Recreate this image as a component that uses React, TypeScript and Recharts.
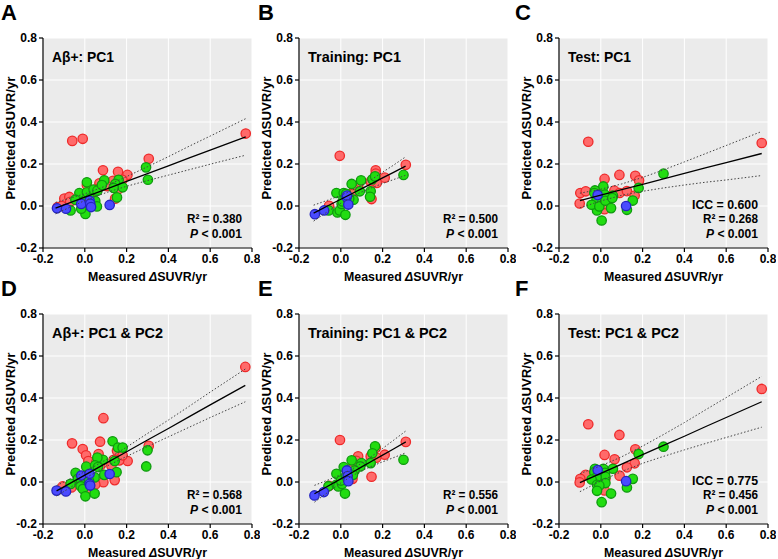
import React from "react";
import { ScatterChart, Scatter, XAxis, YAxis, CartesianGrid } from "recharts";

// ---- data: [measured, predicted] ----
type P = [number, number];

const aRed: P[] = [[-0.06, 0.31], [-0.01, 0.32], [0.77, 0.345], [0.306, 0.225], [0.087, 0.17], [0.159, 0.163], [0.204, 0.148], [-0.098, 0.035], [-0.074, 0.043], [0.01, 0.1], [0.07, 0.108], [0.135, 0.12], [0.18, 0.125], [0.16, 0.08], [0.145, 0.035], [-0.13, -0.005], [-0.11, 0.0], [-0.02, 0.045], [0.035, 0.06], [0.06, 0.08], [0.105, 0.095], [-0.07, 0.02]];
const aGreen: P[] = [[0.293, 0.184], [0.302, 0.125], [0.01, 0.113], [0.093, 0.122], [0.162, 0.125], [0.146, 0.105], [0.181, 0.089], [0.154, 0.041], [-0.026, 0.062], [0.01, 0.065], [0.042, 0.078], [0.06, 0.073], [0.082, 0.1], [0.138, 0.086], [-0.068, -0.021], [0.003, -0.038], [-0.017, -0.013], [0.026, 0.036], [0.05, 0.024], [0.058, -0.002], [-0.045, 0.03], [-0.009, 0.019]];
const aBlue: P[] = [[-0.133, -0.011], [-0.09, -0.013], [-0.017, 0.01], [0.023, 0.025], [0.026, 0.011], [0.03, -0.005], [0.119, 0.005]];

const bRed: P[] = [[-0.005, 0.239], [0.311, 0.196], [0.21, 0.135], [0.167, 0.17], [0.167, 0.154], [0.172, 0.11], [0.143, 0.117], [0.083, 0.098], [0.064, 0.078], [0.147, 0.033], [-0.056, 0.001], [0.058, 0.058]];
const bGreen: P[] = [[0.3, 0.148], [-0.021, 0.062], [0.014, 0.062], [0.052, 0.105], [0.097, 0.122], [0.151, 0.127], [0.164, 0.141], [0.091, 0.07], [0.143, 0.07], [0.14, 0.044], [-0.058, -0.021], [-0.016, -0.031], [-0.005, -0.021], [0.022, -0.042], [0.004, 0.01], [0.009, 0.022], [0.061, 0.03], [0.04, 0.035], [0.026, 0.058]];
const bBlue: P[] = [[-0.124, -0.039], [-0.08, -0.021], [0.028, 0.042], [0.03, 0.05], [0.036, 0.007]];

const cRed: P[] = [[-0.06, 0.306], [0.77, 0.3], [0.089, 0.148], [0.165, 0.144], [0.183, 0.122], [0.018, 0.129], [-0.098, 0.062], [-0.072, 0.07], [-0.101, 0.012], [0.065, 0.073], [0.09, 0.062], [0.125, 0.071], [0.162, 0.05], [0.018, -0.015], [0.022, 0.009]];
const cGreen: P[] = [[0.3, 0.154], [0.012, 0.093], [-0.028, 0.074], [-0.031, 0.062], [-0.02, 0.031], [-0.018, -0.021], [-0.044, 0.006], [-0.007, -0.002], [0.004, -0.069], [0.02, 0.054], [0.022, 0.025], [0.058, 0.049], [0.055, 0.038], [0.049, -0.01], [0.125, -0.018], [0.153, 0.026], [0.181, 0.086]];
const cBlue: P[] = [[-0.015, 0.052], [0.121, 0.0]];

const dRed: P[] = [[0.768, 0.548], [0.089, 0.304], [-0.061, 0.184], [0.073, 0.192], [-0.01, 0.157], [0.006, 0.127], [0.017, 0.1], [0.066, 0.133], [0.306, 0.172], [0.205, 0.1], [0.154, 0.149], [0.165, 0.103], [0.127, 0.079], [0.055, 0.095], [0.074, 0.079], [0.181, 0.127], [0.138, 0.106], [0.089, -0.001], [0.143, 0.009], [-0.106, -0.021], [-0.064, -0.026], [0.05, -0.012], [0.014, -0.033]];
const dGreen: P[] = [[0.133, 0.194], [0.159, 0.164], [0.181, 0.164], [0.3, 0.151], [0.294, 0.074], [0.087, 0.106], [0.06, 0.116], [0.007, 0.073], [0.049, 0.079], [0.063, 0.071], [0.093, 0.034], [0.152, 0.047], [0.143, 0.1], [-0.044, 0.044], [-0.033, 0.015], [0.003, 0.012], [-0.017, 0.003], [0.007, 0.031], [0.047, 0.022], [-0.02, -0.02], [-0.009, -0.033], [0.003, -0.068], [0.047, -0.055], [-0.068, -0.009], [0.02, 0.006]];
const dBlue: P[] = [[-0.135, -0.041], [-0.09, -0.045], [-0.017, 0.031], [0.023, 0.039], [0.023, -0.009], [0.026, -0.017], [0.119, 0.038]];

const eRed: P[] = [[-0.004, 0.2], [0.311, 0.191], [0.21, 0.13], [0.167, 0.162], [0.17, 0.116], [0.143, 0.122], [0.083, 0.122], [0.074, 0.101], [0.061, 0.087], [0.147, 0.025], [0.056, 0.015], [-0.056, -0.018]];
const eGreen: P[] = [[0.3, 0.106], [0.164, 0.17], [0.151, 0.137], [0.143, 0.09], [0.099, 0.09], [0.093, 0.074], [0.052, 0.103], [0.014, 0.071], [-0.021, 0.039], [0.066, 0.055], [0.058, 0.034], [0.02, -0.055], [-0.059, -0.02], [-0.02, -0.012], [-0.012, -0.021], [0.006, -0.009], [0.001, 0.007], [0.025, 0.026]];
const eBlue: P[] = [[-0.126, -0.064], [-0.081, -0.048], [0.029, 0.055], [0.033, 0.028], [0.036, 0.004]];

const fRed: P[] = [[0.77, 0.443], [-0.06, 0.275], [0.089, 0.224], [0.018, 0.129], [0.066, 0.108], [0.165, 0.156], [0.162, 0.089], [0.125, 0.07], [0.09, 0.03], [-0.072, 0.034], [-0.098, 0.015], [-0.101, -0.002], [0.018, -0.04], [0.022, 0.015]];
const fGreen: P[] = [[0.3, 0.168], [0.181, 0.133], [-0.028, 0.063], [-0.031, 0.047], [0.012, 0.063], [0.058, 0.063], [0.02, 0.044], [0.022, 0.025], [0.022, -0.005], [-0.02, 0.022], [-0.044, 0.012], [-0.018, -0.013], [-0.007, -0.017], [-0.018, -0.042], [0.049, -0.055], [0.004, -0.096], [0.125, -0.026], [0.153, 0.015]];
const fBlue: P[] = [[-0.015, 0.057], [0.121, 0.004]];

// fit lines and 95% bands
const aFitX = [-0.14, 0, 0.1, 0.2, 0.3, 0.4, 0.5, 0.6, 0.77];
const aFit = [-0.01, 0.042, 0.079, 0.117, 0.154, 0.191, 0.229, 0.266, 0.329];
const aHi = [0.017, 0.058, 0.095, 0.14, 0.187, 0.235, 0.285, 0.333, 0.416];
const aLo = [-0.037, 0.026, 0.063, 0.094, 0.121, 0.147, 0.173, 0.199, 0.242];

const bFitX = [-0.13, -0.05, 0, 0.05, 0.1, 0.15, 0.2, 0.25, 0.31];
const bFit = [-0.034, 0.007, 0.032, 0.057, 0.083, 0.108, 0.134, 0.159, 0.19];
const bHi = [0.004, 0.032, 0.051, 0.072, 0.099, 0.128, 0.161, 0.193, 0.234];
const bLo = [-0.072, -0.018, 0.013, 0.042, 0.067, 0.088, 0.107, 0.125, 0.146];

const cFitX = [-0.1, 0, 0.1, 0.2, 0.3, 0.4, 0.5, 0.6, 0.77];
const cFit = [0.026, 0.052, 0.078, 0.103, 0.129, 0.155, 0.181, 0.206, 0.25];
const cHi = [0.061, 0.08, 0.105, 0.136, 0.172, 0.21, 0.249, 0.288, 0.355];
const cLo = [-0.009, 0.024, 0.051, 0.07, 0.086, 0.1, 0.113, 0.124, 0.145];

const dFitX = [-0.135, 0, 0.1, 0.2, 0.3, 0.4, 0.5, 0.6, 0.768];
const dFit = [-0.042, 0.033, 0.089, 0.144, 0.2, 0.255, 0.311, 0.367, 0.46];
const dHi = [-0.017, 0.049, 0.105, 0.166, 0.231, 0.295, 0.361, 0.428, 0.538];
const dLo = [-0.067, 0.017, 0.073, 0.122, 0.169, 0.215, 0.261, 0.307, 0.382];

const eFitX = [-0.126, -0.05, 0, 0.05, 0.1, 0.15, 0.2, 0.25, 0.311];
const eFit = [-0.056, -0.013, 0.015, 0.043, 0.072, 0.1, 0.128, 0.156, 0.191];
const eHi = [-0.016, 0.014, 0.035, 0.059, 0.09, 0.124, 0.16, 0.197, 0.243];
const eLo = [-0.096, -0.04, -0.005, 0.027, 0.054, 0.076, 0.096, 0.115, 0.139];

const fFitX = [-0.1, 0, 0.1, 0.2, 0.3, 0.4, 0.5, 0.6, 0.77];
const fFit = [-0.003, 0.041, 0.085, 0.13, 0.174, 0.218, 0.263, 0.307, 0.382];
const fHi = [0.04, 0.077, 0.12, 0.171, 0.226, 0.283, 0.343, 0.402, 0.503];
const fLo = [-0.046, 0.005, 0.05, 0.089, 0.122, 0.153, 0.183, 0.212, 0.261];

const ticks = [-0.2, 0, 0.2, 0.4, 0.6, 0.8];
const letters = ["A", "B", "C", "D", "E", "F"];
const titles = ["Aβ+: PC1", "Training: PC1", "Test: PC1", "Aβ+: PC1 & PC2", "Training: PC1 & PC2", "Test: PC1 & PC2"];
const iccs = [null, null, "0.600", null, null, "0.775"];
const r2s = ["0.380", "0.500", "0.268", "0.568", "0.556", "0.456"];

const FONT = "'Liberation Sans', Arial, sans-serif";
const PW = 209;
const PH = 210;
// plot-area corners in the page
const origins = [
  [43, 38], [299, 38], [559, 38],
  [43, 314], [299, 314], [559, 314],
];
// text widths measured on the figure (its type is a little condensed)
const titleW = [62, 93, 63, 111, 139, 111];

const toPts = (a: P[]) => a.map(([x, y]) => ({ x, y }));
const toLine = (xs: number[], ys: number[]) => xs.map((x, i) => ({ x, y: ys[i] }));

const panels = [
  { red: aRed, green: aGreen, blue: aBlue, fx: aFitX, fit: aFit, hi: aHi, lo: aLo },
  { red: bRed, green: bGreen, blue: bBlue, fx: bFitX, fit: bFit, hi: bHi, lo: bLo },
  { red: cRed, green: cGreen, blue: cBlue, fx: cFitX, fit: cFit, hi: cHi, lo: cLo },
  { red: dRed, green: dGreen, blue: dBlue, fx: dFitX, fit: dFit, hi: dHi, lo: dLo },
  { red: eRed, green: eGreen, blue: eBlue, fx: eFitX, fit: eFit, hi: eHi, lo: eLo },
  { red: fRed, green: fGreen, blue: fBlue, fx: fFitX, fit: fFit, hi: fHi, lo: fLo },
];

const dot = (fill: string, stroke: string) => (props: any) =>
  <circle cx={props.cx} cy={props.cy} r={4.7} fill={fill} stroke={stroke} strokeWidth={1.3} />;
const noShape = () => null;

function Panel({ idx }: { idx: number }) {
  const p = panels[idx];
  const [ox, oy] = origins[idx];
  const axisTick = { fill: "#000", fontSize: 12, fontWeight: 700, fontFamily: FONT };
  return (
    <div style={{ position: "absolute", left: ox - 43, top: oy - 38 }}>
      <ScatterChart width={43 + PW + 8} height={38 + PH + 32} margin={{ top: 38, right: 8, left: 0, bottom: 0 }}>
        <CartesianGrid stroke="#ffffff" strokeWidth={1} fill="#ebebeb" fillOpacity={1} />
        <XAxis type="number" dataKey="x" domain={[-0.2, 0.8]} ticks={ticks} height={32} allowDataOverflow
          tickFormatter={(v: number) => v.toFixed(1)} tick={axisTick} tickSize={4}
          axisLine={{ stroke: "#000", strokeWidth: 1.2 }} tickLine={{ stroke: "#000", strokeWidth: 1.2 }} />
        <YAxis type="number" dataKey="y" domain={[-0.2, 0.8]} ticks={ticks} width={43} allowDataOverflow
          tickFormatter={(v: number) => v.toFixed(1)} tick={axisTick} tickSize={4}
          axisLine={{ stroke: "#000", strokeWidth: 1.2 }} tickLine={{ stroke: "#000", strokeWidth: 1.2 }} />
        <Scatter data={toPts(p.red)} shape={dot("#ff6a6a", "#ee2a2a")} isAnimationActive={false} />
        <Scatter data={toPts(p.green)} shape={dot("#22dd11", "#0e9a0e")} isAnimationActive={false} />
        <Scatter data={toPts(p.blue)} shape={dot("#4a4aff", "#2424c0")} isAnimationActive={false} />
        <Scatter data={toLine(p.fx, p.hi)} shape={noShape} line={{ stroke: "#444", strokeWidth: 1, strokeDasharray: "1.5 2" }} lineType="joint" isAnimationActive={false} />
        <Scatter data={toLine(p.fx, p.lo)} shape={noShape} line={{ stroke: "#444", strokeWidth: 1, strokeDasharray: "1.5 2" }} lineType="joint" isAnimationActive={false} />
        <Scatter data={toLine(p.fx, p.fit)} shape={noShape} line={{ stroke: "#000", strokeWidth: 1.3 }} lineType="joint" isAnimationActive={false} />
      </ScatterChart>
    </div>
  );
}

// "<word> ΔSUVR/yr" as three plain texts laid end to end (Δ in italics)
function AxisTitle({ word, wordW, total }: { word: string; wordW: number; total: number }) {
  const fit = "spacingAndGlyphs";
  const x0 = -total / 2;
  const dW = 8.2;
  const restW = total - wordW - 3.4 - dW;
  return (
    <>
      <text x={x0} y={0} fontSize={13} textLength={wordW} lengthAdjust={fit}>{word}</text>
      <text x={x0 + wordW + 3.4} y={0} fontSize={13} fontStyle="italic" textLength={dW} lengthAdjust={fit}>Δ</text>
      <text x={x0 + wordW + 3.4 + dW} y={0} fontSize={13} textLength={restW} lengthAdjust={fit}>SUVR/yr</text>
    </>
  );
}

function Labels() {
  const fit = "spacingAndGlyphs";
  return (
    <svg width={778} height={559} style={{ position: "absolute", left: 0, top: 0, pointerEvents: "none" }}
      fontFamily={FONT} fontWeight={700}>
      {origins.map(([ox, oy], i) => {
        const right = ox + PW - 10;
        const bottom = oy + PH;
        const colLeft = [1, 258, 515][i % 3];
        return (
          <g key={i}>
            <text x={colLeft} y={oy - 18} fontSize={22}>{letters[i]}</text>
            <text x={ox + 9} y={oy + 24} fontSize={15} textLength={titleW[i]} lengthAdjust={fit}>{titles[i]}</text>
            {iccs[i] && <text x={right} y={bottom - 39} fontSize={13} textAnchor="end" textLength={66} lengthAdjust={fit}>ICC = {iccs[i]}</text>}
            <text x={right} y={bottom - 25} fontSize={13} textAnchor="end" textLength={55} lengthAdjust={fit}>R² = {r2s[i]}</text>
            <text x={right} y={bottom - 10.5} fontSize={13} textAnchor="end" textLength={52} lengthAdjust={fit}>
              <tspan fontStyle="italic">P</tspan> &lt; 0.001
            </text>
            <g transform={`translate(${ox + PW / 2}, ${bottom + 32.5})`}>
              <AxisTitle word="Measured" wordW={57.7} total={119} />
            </g>
            <g transform={`translate(${ox - 28}, ${oy + PH / 2 - 5}) rotate(-90)`}>
              <AxisTitle word="Predicted" wordW={58.5} total={123} />
            </g>
          </g>
        );
      })}
    </svg>
  );
}

export default function App() {
  return (
    <div style={{ position: "absolute", left: 0, top: 0, width: 778, height: 559, background: "#fff" }}>
      {panels.map((_, i) => <Panel key={i} idx={i} />)}
      <Labels />
    </div>
  );
}
